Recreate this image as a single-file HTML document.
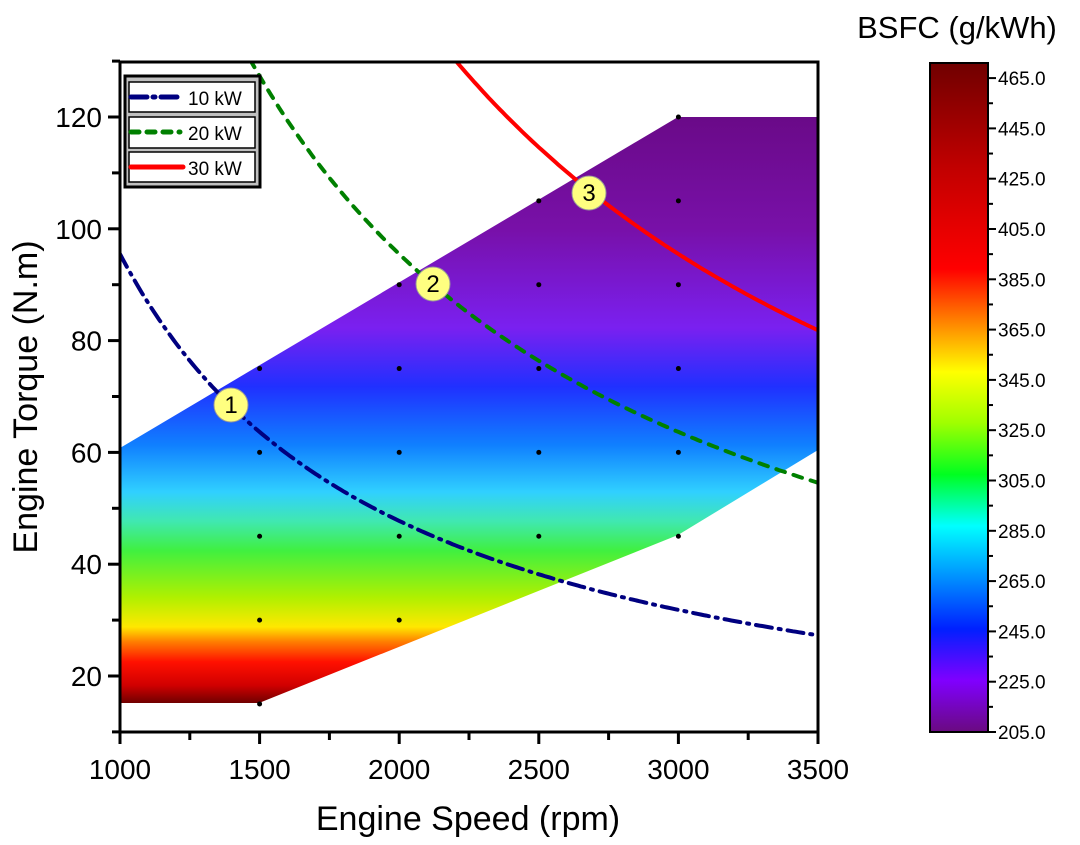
<!DOCTYPE html>
<html><head><style>
body{margin:0;background:#fff;}
svg{display:block;font-family:"Liberation Sans",sans-serif;}
</style></head><body>
<svg id="s" width="1080" height="845" viewBox="0 0 1080 845">
<defs>
<linearGradient id="g" gradientUnits="userSpaceOnUse" x1="0" y1="117" x2="0" y2="703">
<stop offset="0" stop-color="#6a0a88"/>
<stop offset="0.19" stop-color="#7810a8"/>
<stop offset="0.36" stop-color="#7a20f0"/>
<stop offset="0.46" stop-color="#2030ff"/>
<stop offset="0.56" stop-color="#1080ff"/>
<stop offset="0.64" stop-color="#30d0ff"/>
<stop offset="0.69" stop-color="#40e8b0"/>
<stop offset="0.74" stop-color="#40f040"/>
<stop offset="0.82" stop-color="#b0f000"/>
<stop offset="0.87" stop-color="#ffe800"/>
<stop offset="0.895" stop-color="#ff8000"/>
<stop offset="0.93" stop-color="#ff1000"/>
<stop offset="0.97" stop-color="#d00000"/>
<stop offset="1" stop-color="#700000"/>
</linearGradient>
<linearGradient id="cb" x1="0" y1="1" x2="0" y2="0">
<stop offset="0" stop-color="#6a0a80"/>
<stop offset="0.077" stop-color="#8000ff"/>
<stop offset="0.154" stop-color="#0020ff"/>
<stop offset="0.231" stop-color="#0090ff"/>
<stop offset="0.308" stop-color="#00ffff"/>
<stop offset="0.385" stop-color="#00ff20"/>
<stop offset="0.462" stop-color="#a0ff00"/>
<stop offset="0.538" stop-color="#ffff00"/>
<stop offset="0.615" stop-color="#ff8000"/>
<stop offset="0.692" stop-color="#ff0000"/>
<stop offset="0.846" stop-color="#c00000"/>
<stop offset="1" stop-color="#700000"/>
</linearGradient>
<clipPath id="c"><rect x="120" y="62" width="698" height="670"/></clipPath>
</defs>
<polygon points="120,448 678,117 818,117 818,450 678,535 259,703 120,703" fill="url(#g)"/>
<g id="dots" fill="#000"></g>
<g id="curves" clip-path="url(#c)" fill="none" stroke-width="4"></g>
<rect x="120" y="62" width="698" height="670" fill="none" stroke="#000" stroke-width="3"/>
<g id="ticks" stroke="#000" stroke-width="3"></g>
<g font-size="28" fill="#000" id="labels"></g>
<text x="468" y="830" font-size="34" text-anchor="middle">Engine Speed (rpm)</text>
<text transform="translate(37,397) rotate(-90)" font-size="34" text-anchor="middle">Engine Torque (N.m)</text>
<!-- legend -->
<rect x="125" y="76" width="135" height="111" fill="#c0c0c0" stroke="#000" stroke-width="3"/>
<rect x="129" y="82" width="126" height="30" fill="#fff" stroke="#000" stroke-width="1.5"/>
<rect x="129" y="117" width="126" height="31" fill="#fff" stroke="#000" stroke-width="1.5"/>
<rect x="129" y="152" width="126" height="30" fill="#fff" stroke="#000" stroke-width="1.5"/>
<line x1="131" y1="97" x2="180" y2="97" stroke="#000080" stroke-width="5" stroke-dasharray="16,6,2,6" stroke-linecap="round"/>
<line x1="131" y1="132" x2="180" y2="132" stroke="#008000" stroke-width="5" stroke-dasharray="8,8" stroke-linecap="round"/>
<line x1="131" y1="167" x2="183" y2="167" stroke="#ff0000" stroke-width="5" stroke-linecap="round"/>
<text x="188" y="105" font-size="19">10 kW</text>
<text x="188" y="140" font-size="19">20 kW</text>
<text x="188" y="175" font-size="19">30 kW</text>
<!-- markers -->
<g font-size="24" text-anchor="middle">
<circle cx="231" cy="405" r="17" fill="#ffff80" stroke="#999" stroke-width="1"/><text x="231" y="413">1</text>
<circle cx="433" cy="284" r="17" fill="#ffff80" stroke="#999" stroke-width="1"/><text x="433" y="292">2</text>
<circle cx="589" cy="193" r="17" fill="#ffff80" stroke="#999" stroke-width="1"/><text x="589" y="201">3</text>
</g>
<!-- colorbar -->
<rect x="930" y="63" width="58" height="669" fill="url(#cb)" stroke="#000" stroke-width="2"/>
<g id="cbt" stroke="#000" stroke-width="2"></g>
<g id="cbl" font-size="19"></g>
<text x="957" y="38" font-size="31" text-anchor="middle">BSFC (g/kWh)</text>
</svg>
<script>
var NS="http://www.w3.org/2000/svg";
function el(p,t,a,txt){var e=document.createElementNS(NS,t);for(var k in a)e.setAttribute(k,a[k]);if(txt!=null)e.textContent=txt;document.getElementById(p).appendChild(e);}
function X(n){return 120+(n-1000)*698/2500;}
function Y(t){return 117+(120-t)*5.59;}
for(var n=1000;n<=3500;n+=250){var maj=n%500==0;el("ticks","line",{x1:X(n),y1:732,x2:X(n),y2:maj?744:740});
if(maj)el("labels","text",{x:X(n),y:779,"text-anchor":"middle"},n);}
for(var t=10;t<=130;t+=10){var maj=t%20==0;el("ticks","line",{x1:120,y1:Y(t),x2:maj?108:112,y2:Y(t)});
if(maj&&t<=120)el("labels","text",{x:102,y:Y(t)+10,"text-anchor":"end"},t);}
var sp=[1000,1500,2000,2500,3000];
var lim={1000:[15,60],1500:[15,75],2000:[30,90],2500:[45,105],3000:[45,120]};
sp.forEach(function(n){for(var t=15;t<=120;t+=15){if(t>=lim[n][0]&&t<=lim[n][1])el("dots","circle",{cx:X(n),cy:Y(t),r:n==1000?1.5:2.5});}});
function curve(P,col,dash){var d="";for(var n=900;n<=3600;n+=10){var t=9549*P/n;d+=(d?"L":"M")+X(n).toFixed(1)+","+Y(t).toFixed(1);}
var a={d:d,stroke:col,"stroke-linecap":"round"};if(dash)a["stroke-dasharray"]=dash;el("curves","path",a);}
curve(10,"#000080","16,7,2,7");curve(20,"#008000","9,9");curve(30,"#ff0000",null);
for(var v=205;v<=470;v+=10){var y=732-(v-205)*669/(471-205);var maj=(v-205)%20==0;
el("cbt","line",{x1:988,y1:y,x2:maj?996:993,y2:y});
if(maj&&v<=465)el("cbl","text",{x:998,y:y+7},v.toFixed(1));}
</script>
</body></html>
